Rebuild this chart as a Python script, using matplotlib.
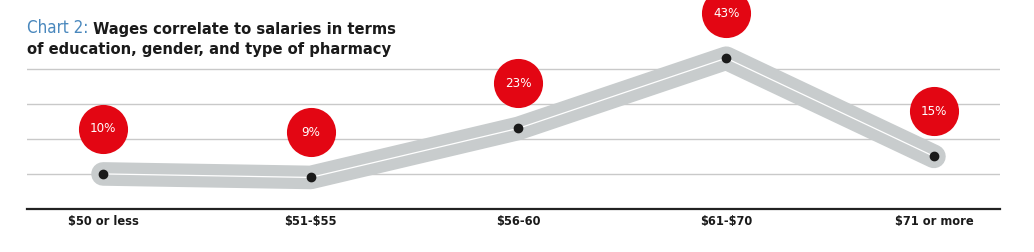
import matplotlib
matplotlib.use("Agg")
import matplotlib.pyplot as plt
from matplotlib import font_manager, transforms
from matplotlib.font_manager import FontProperties

# ---- data ----
categories = ["\\$50 or less", "\\$51-\\$55", "\\$56-60", "\\$61-\\$70", "\\$71 or more"]
shares = [10, 9, 23, 43, 15]
labels = ["10%", "9%", "23%", "43%", "15%"]

# ---- font selection: prefer a condensed face ----
cond = [f for f in font_manager.fontManager.ttflist
        if (str(f.stretch) in ("condensed", "semi-condensed", "extra-condensed")
            or "Narrow" in f.name or "Condensed" in f.name)]
def pick(weight_bold):
    best = None
    target = 700 if weight_bold else 400
    for f in cond:
        w = f.weight if isinstance(f.weight, int) else (700 if "bold" in str(f.weight) else 400)
        if (w >= 600) != weight_bold or f.style != "normal":
            continue
        if best is None or abs(w - target) < abs(best[0] - target):
            best = (w, f)
    return best[1] if best else None
fb, fr = pick(True), pick(False)
if fb is not None and fr is not None:
    BOLD = lambda s: FontProperties(fname=fb.fname, size=s)
    REG = lambda s: FontProperties(fname=fr.fname, size=s)
else:
    BOLD = lambda s: FontProperties(family="Liberation Sans", weight="bold", size=s)
    REG = lambda s: FontProperties(family="Liberation Sans", size=s)

W, H = 1034, 252
fig = plt.figure(figsize=(W / 100, H / 100), dpi=100)
ax = fig.add_axes([27 / W, (H - 209) / H, (1000 - 27) / W, 209 / H])
x = list(range(len(categories)))

ax.set_xlim(-0.366, 4.318)
ax.set_ylim(0, 59.6)
for v in [10, 20, 30, 40]:
    ax.axhline(v, color="#c9c9c9", lw=1.0, zorder=0)
ax.axhline(0, color="#222222", lw=1.6, zorder=1, clip_on=False)

ax.plot(x, shares, color="#c8cccd", lw=17, solid_capstyle="round",
        solid_joinstyle="round", zorder=2)
ax.plot(x, shares, color="white", lw=0.9, zorder=3)
ax.plot(x, shares, "o", color="#1a1a1a", ms=6, zorder=4)

off = transforms.offset_copy(ax.transData, fig=fig, x=0, y=45, units="dots")
ax.scatter(x, shares, s=1250, color="#e30613", transform=off, zorder=5,
           clip_on=False, linewidths=0)
for xi, yi, lab in zip(x, shares, labels):
    ax.text(xi, yi, lab, transform=off, ha="center", va="center",
            color="white", fontproperties=REG(9.5), zorder=6)

ax.set_xticks(x)
ax.set_xticklabels(categories, color="#1a1a1a")
for t in ax.get_xticklabels():
    t.set_fontproperties(BOLD(9.2))
ax.tick_params(axis="x", length=0, pad=4)
ax.set_yticks([])
for s in ax.spines.values():
    s.set_visible(False)
ax.patch.set_alpha(0)

t1 = fig.text(27 / W, 1 - 33 / H, "Chart 2:", fontproperties=REG(12.2), color="#4a88bd",
              ha="left", va="baseline")
ax.annotate(" Wages correlate to salaries in terms", xy=(1, 0), xycoords=t1,
            fontproperties=BOLD(11.8), color="#1a1a1a",
            ha="left", va="bottom")
fig.text(27 / W, 1 - 54 / H, "of education, gender, and type of pharmacy",
         fontproperties=BOLD(11.8), color="#1a1a1a", ha="left", va="baseline")

fig.savefig("out.png", dpi=100)
